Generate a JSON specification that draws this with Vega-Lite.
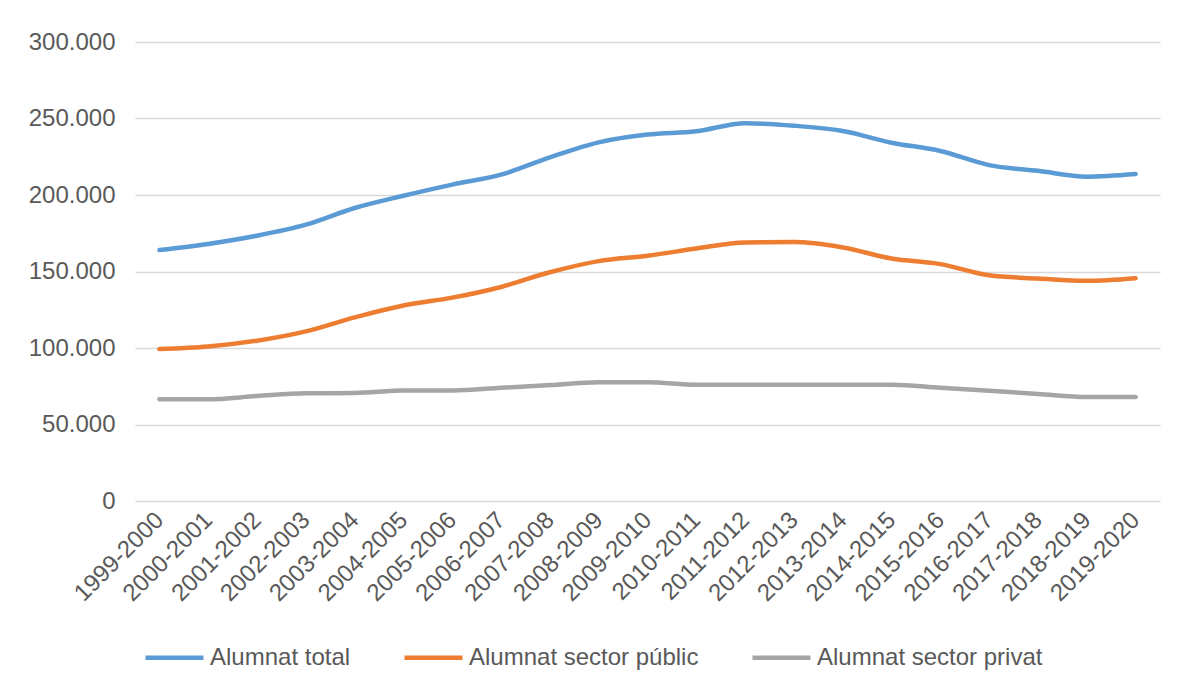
{
  "$schema": "https://vega.github.io/schema/vega-lite/v6.json",
  "autosize": {"type": "none"},
  "width": 1025,
  "height": 459,
  "padding": {"left": 135, "top": 42, "right": 24, "bottom": 189},
  "background": "white",
  "config": {
    "locale": {"number": {"decimal": ",", "thousands": ".", "grouping": [3], "currency": ["", " €"]}},
    "view": {"stroke": null},
    "font": "Liberation Sans"
  },
  "data": {
    "values": [
      {"curs": "1999-2000", "serie": "Alumnat total", "alumnes": 164000},
      {"curs": "2000-2001", "serie": "Alumnat total", "alumnes": 168000},
      {"curs": "2001-2002", "serie": "Alumnat total", "alumnes": 173400},
      {"curs": "2002-2003", "serie": "Alumnat total", "alumnes": 180600},
      {"curs": "2003-2004", "serie": "Alumnat total", "alumnes": 191500},
      {"curs": "2004-2005", "serie": "Alumnat total", "alumnes": 199500},
      {"curs": "2005-2006", "serie": "Alumnat total", "alumnes": 206800},
      {"curs": "2006-2007", "serie": "Alumnat total", "alumnes": 213300},
      {"curs": "2007-2008", "serie": "Alumnat total", "alumnes": 224600},
      {"curs": "2008-2009", "serie": "Alumnat total", "alumnes": 234400},
      {"curs": "2009-2010", "serie": "Alumnat total", "alumnes": 239500},
      {"curs": "2010-2011", "serie": "Alumnat total", "alumnes": 241600},
      {"curs": "2011-2012", "serie": "Alumnat total", "alumnes": 246900},
      {"curs": "2012-2013", "serie": "Alumnat total", "alumnes": 245300},
      {"curs": "2013-2014", "serie": "Alumnat total", "alumnes": 241800},
      {"curs": "2014-2015", "serie": "Alumnat total", "alumnes": 234200},
      {"curs": "2015-2016", "serie": "Alumnat total", "alumnes": 228800},
      {"curs": "2016-2017", "serie": "Alumnat total", "alumnes": 219500},
      {"curs": "2017-2018", "serie": "Alumnat total", "alumnes": 215800},
      {"curs": "2018-2019", "serie": "Alumnat total", "alumnes": 212000},
      {"curs": "2019-2020", "serie": "Alumnat total", "alumnes": 213700},
      {"curs": "1999-2000", "serie": "Alumnat sector públic", "alumnes": 99300},
      {"curs": "2000-2001", "serie": "Alumnat sector públic", "alumnes": 101000},
      {"curs": "2001-2002", "serie": "Alumnat sector públic", "alumnes": 104800},
      {"curs": "2002-2003", "serie": "Alumnat sector públic", "alumnes": 110900},
      {"curs": "2003-2004", "serie": "Alumnat sector públic", "alumnes": 120000},
      {"curs": "2004-2005", "serie": "Alumnat sector públic", "alumnes": 127800},
      {"curs": "2005-2006", "serie": "Alumnat sector públic", "alumnes": 132900},
      {"curs": "2006-2007", "serie": "Alumnat sector públic", "alumnes": 139900},
      {"curs": "2007-2008", "serie": "Alumnat sector públic", "alumnes": 149500},
      {"curs": "2008-2009", "serie": "Alumnat sector públic", "alumnes": 156800},
      {"curs": "2009-2010", "serie": "Alumnat sector públic", "alumnes": 160300},
      {"curs": "2010-2011", "serie": "Alumnat sector públic", "alumnes": 165000},
      {"curs": "2011-2012", "serie": "Alumnat sector públic", "alumnes": 169000},
      {"curs": "2012-2013", "serie": "Alumnat sector públic", "alumnes": 169200},
      {"curs": "2013-2014", "serie": "Alumnat sector públic", "alumnes": 165700},
      {"curs": "2014-2015", "serie": "Alumnat sector públic", "alumnes": 158500},
      {"curs": "2015-2016", "serie": "Alumnat sector públic", "alumnes": 154800},
      {"curs": "2016-2017", "serie": "Alumnat sector públic", "alumnes": 147500},
      {"curs": "2017-2018", "serie": "Alumnat sector públic", "alumnes": 145400},
      {"curs": "2018-2019", "serie": "Alumnat sector públic", "alumnes": 143900},
      {"curs": "2019-2020", "serie": "Alumnat sector públic", "alumnes": 145600},
      {"curs": "1999-2000", "serie": "Alumnat sector privat", "alumnes": 66500},
      {"curs": "2000-2001", "serie": "Alumnat sector privat", "alumnes": 66500},
      {"curs": "2001-2002", "serie": "Alumnat sector privat", "alumnes": 68600},
      {"curs": "2002-2003", "serie": "Alumnat sector privat", "alumnes": 70400},
      {"curs": "2003-2004", "serie": "Alumnat sector privat", "alumnes": 70600},
      {"curs": "2004-2005", "serie": "Alumnat sector privat", "alumnes": 72200},
      {"curs": "2005-2006", "serie": "Alumnat sector privat", "alumnes": 72300},
      {"curs": "2006-2007", "serie": "Alumnat sector privat", "alumnes": 74000},
      {"curs": "2007-2008", "serie": "Alumnat sector privat", "alumnes": 75800},
      {"curs": "2008-2009", "serie": "Alumnat sector privat", "alumnes": 77600},
      {"curs": "2009-2010", "serie": "Alumnat sector privat", "alumnes": 77600},
      {"curs": "2010-2011", "serie": "Alumnat sector privat", "alumnes": 76000},
      {"curs": "2011-2012", "serie": "Alumnat sector privat", "alumnes": 76000},
      {"curs": "2012-2013", "serie": "Alumnat sector privat", "alumnes": 76000},
      {"curs": "2013-2014", "serie": "Alumnat sector privat", "alumnes": 76000},
      {"curs": "2014-2015", "serie": "Alumnat sector privat", "alumnes": 76000},
      {"curs": "2015-2016", "serie": "Alumnat sector privat", "alumnes": 74000},
      {"curs": "2016-2017", "serie": "Alumnat sector privat", "alumnes": 72000},
      {"curs": "2017-2018", "serie": "Alumnat sector privat", "alumnes": 70000},
      {"curs": "2018-2019", "serie": "Alumnat sector privat", "alumnes": 68000},
      {"curs": "2019-2020", "serie": "Alumnat sector privat", "alumnes": 68000}
    ]
  },
  "mark": {"type": "line", "strokeWidth": 4.5, "interpolate": "monotone", "strokeCap": "round", "strokeJoin": "round"},
  "encoding": {
    "x": {
      "field": "curs",
      "type": "ordinal",
      "sort": null,
      "scale": {"type": "point", "padding": 0.5},
      "axis": {
        "title": null,
        "labelAngle": -45,
        "labelAlign": "right",
        "labelBaseline": "middle",
        "labelFontSize": 24,
        "labelColor": "#595959",
        "labelPadding": 15,
        "labelOverlap": false,
        "ticks": false,
        "domain": false,
        "grid": false
      }
    },
    "y": {
      "field": "alumnes",
      "type": "quantitative",
      "scale": {"domain": [0, 300000], "nice": false},
      "axis": {
        "title": null,
        "values": [0, 50000, 100000, 150000, 200000, 250000, 300000],
        "format": ",d",
        "labelFontSize": 24,
        "labelColor": "#595959",
        "labelPadding": 20,
        "ticks": false,
        "domain": false,
        "gridColor": "#d9d9d9",
        "gridWidth": 1.5
      }
    },
    "color": {
      "field": "serie",
      "type": "nominal",
      "sort": null,
      "scale": {
        "domain": ["Alumnat total", "Alumnat sector públic", "Alumnat sector privat"],
        "range": ["#5b9bd5", "#ed7d31", "#a5a5a5"]
      },
      "legend": {
        "title": null,
        "orient": "none",
        "legendX": 8,
        "legendY": 584,
        "direction": "horizontal",
        "symbolType": "stroke",
        "symbolSize": 3364,
        "symbolStrokeWidth": 4.5,
        "labelFontSize": 24,
        "labelColor": "#595959",
        "labelOffset": 4,
        "labelLimit": 0,
        "columnPadding": 44
      }
    }
  }
}
